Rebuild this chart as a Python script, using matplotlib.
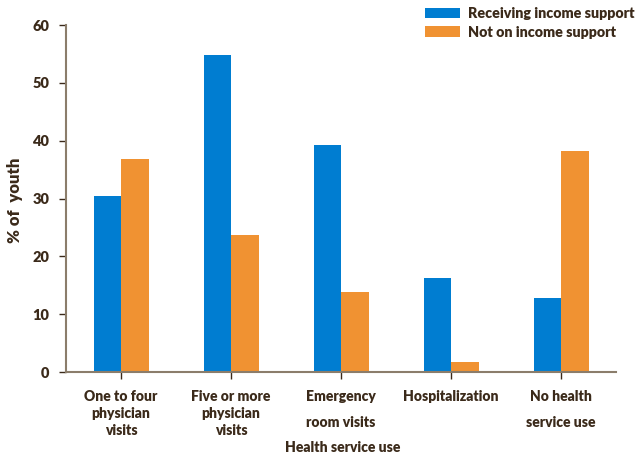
import matplotlib
matplotlib.use("Agg")
import matplotlib.pyplot as plt
import numpy as np

categories = ["One to four\nphysician\nvisits", "Five or more\nphysician\nvisits",
              "Emergency\nroom visits", "Hospitalization", "No health\nservice use"]
receiving = [30.4, 54.8, 39.2, 16.2, 12.8]
not_on = [36.8, 23.7, 13.8, 1.7, 38.2]
series_names = ["Receiving income support", "Not on income support"]
yticks = [0, 10, 20, 30, 40, 50, 60]

blue = "#007DD1"
orange = "#F09232"
axis_col = "#8B7D6B"
text_col = "#3B2A1A"
W = 800

plt.rcParams['font.family'] = ['Lato', 'DejaVu Sans']
plt.rcParams['font.weight'] = W

fig = plt.figure(figsize=(6.35, 4.54), dpi=100)
ax = fig.add_axes([66/635, (454-372)/454, (616-66)/635, (372-25)/454])

x = np.arange(len(categories))
w = 0.25
ax.bar(x - w/2, receiving, w, color=blue, label=series_names[0])
ax.bar(x + w/2, not_on, w, color=orange, label=series_names[1])

ax.set_xlim(-0.5, 4.5)
ax.set_ylim(0, 60)
ax.set_yticks(yticks)
ax.set_yticklabels([str(t) for t in yticks])
ax.set_xticks(x)
ax.set_xticklabels(categories)
for i, lbl in enumerate(ax.get_xticklabels()):
    lbl.set_fontsize(10)
    lbl.set_fontweight(W)
    lbl.set_color(text_col)
    if i in (2, 4):
        lbl.set_linespacing(2.2)
    else:
        lbl.set_linespacing(1.38)
for lbl in ax.get_yticklabels():
    lbl.set_fontsize(10.5)
    lbl.set_fontweight(W)
    lbl.set_color(text_col)

for s in ['top', 'right']:
    ax.spines[s].set_visible(False)
for s in ['left', 'bottom']:
    ax.spines[s].set_color(axis_col)
    ax.spines[s].set_linewidth(1.5)
ax.tick_params(axis='both', direction='out', length=5, width=1, color=text_col)
ax.tick_params(axis='x', pad=8)
ax.tick_params(axis='y', pad=7)

ax.set_ylabel("% of  youth", fontsize=12, fontweight=W, color=text_col)
ax.yaxis.set_label_coords(-(66-15)/550, (372-200)/347)
ax.yaxis.label.set_va('center')
ax.set_xlabel("Health service use", fontsize=10, fontweight=W, color=text_col)
ax.xaxis.set_label_coords((343-66)/550, -(447-372)/347)
ax.xaxis.label.set_va('center')

leg = ax.legend(loc='upper left', bbox_to_anchor=((425-66)/550, 1 + 18/347), frameon=False,
                handlelength=2.45, handleheight=0.75, fontsize=10.3, labelspacing=0.4,
                handletextpad=0.55, borderaxespad=0, borderpad=0)
for t in leg.get_texts():
    t.set_color(text_col)
    t.set_fontweight(W)

fig.savefig("out.png", dpi=100)
